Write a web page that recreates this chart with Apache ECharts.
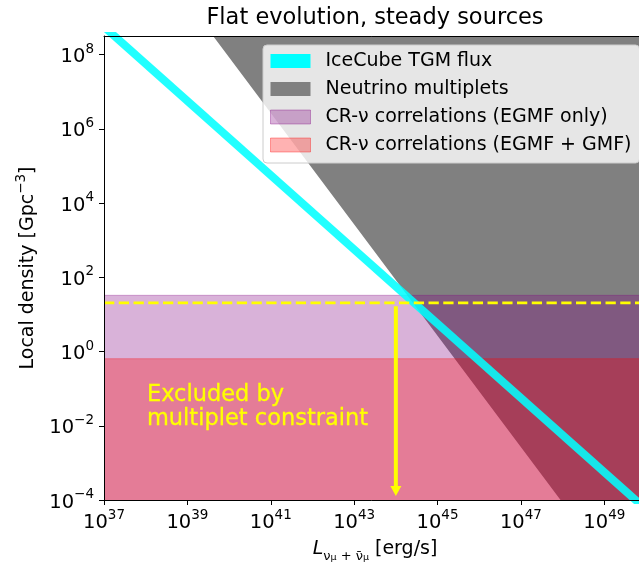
<!DOCTYPE html>
<html>
<head>
<meta charset="utf-8">
<script src="https://cdn.jsdelivr.net/npm/echarts@6/dist/echarts.min.js"></script>
<style>html,body{margin:0;padding:0;background:#fff}#c{width:639px;height:564px}</style>
</head>
<body>
<div id="c"></div>
<script>
// ---- data ----
const xRange = [1e37, 1e50];
const yRange = [1e-4, Math.pow(10, 8.5)];
const xTicks = [1e37, 1e39, 1e41, 1e43, 1e45, 1e47, 1e49];
const yTicks = [1e-4, 1e-2, 1e0, 1e2, 1e4, 1e6, 1e8];

// IceCube TGM flux line (n ~ L^-1)
const icecubeL = [1e37, 1e50];
const icecubeN = [Math.pow(10, 8.75), Math.pow(10, -4.25)];
// Neutrino multiplets boundary (n ~ L^-1.5), excluded above
const multipletL = [1e37, Math.pow(10, 47.95), 1e50];
const multipletN = [Math.pow(10, 12.425), 1e-4, 1e-4];
// CR-nu correlations upper levels
const egmfOnlyL = [1e37, 1e50];
const egmfOnlyN = [32.7, 32.7];
const egmfGmfL = [1e37, 1e50];
const egmfGmfN = [0.64, 0.64];
// multiplet constraint (dashed) and arrow
const constraintL = [1e37, 1e50];
const constraintN = [20.4, 20.4];
const arrowL = [1e44, 1e44];
const arrowN = [16.5, Math.pow(10, -3.757)];
const noteL = [Math.pow(10, 38.03)];
const noteN = [Math.pow(10, -0.84)];
const noteText = 'Excluded by\nmultiplet constraint';

const seriesNames = ['IceCube TGM flux', 'Neutrino multiplets',
  'CR-\u03bd correlations (EGMF only)', 'CR-\u03bd correlations (EGMF + GMF)'];

const FF = 'DejaVu Sans';
function zip(a, b) { return a.map((v, i) => [v, b[i]]); }
function expLabel(v) {
  const e = Math.round(Math.log10(v));
  const s = (e < 0 ? '\u2212' : '') + Math.abs(e);
  return '{b|10}{s|' + s + '}';
}
const tickRich = {
  b: { fontSize: 19.5, fontFamily: FF, color: '#000', padding: [5, 0, 0, 0] },
  s: { fontSize: 13.5, fontFamily: FF, color: '#000', verticalAlign: 'top' }
};

const chart = echarts.init(document.getElementById('c'), null, { renderer: 'canvas' });
const option = {
  animation: false,
  backgroundColor: '#fff',
  title: {
    text: 'Flat evolution, steady sources',
    left: 375, top: 7, padding: 0, textAlign: 'center',
    textStyle: { fontFamily: FF, fontSize: 22.5, fontWeight: 'normal', color: '#000' }
  },
  grid: { left: 104, top: 36, width: 542, height: 464, containLabel: false, outerBoundsMode: 'none' },
  legend: {
    orient: 'vertical', left: 263, top: 45,
    padding: [6.5, 8, 8.5, 7],
    backgroundColor: 'rgba(255,255,255,0.8)',
    borderColor: '#cccccc', borderWidth: 1, borderRadius: 4,
    itemWidth: 40, itemHeight: 14, itemGap: 9,
    selectedMode: false,
    textStyle: { fontFamily: FF, fontSize: 19, color: '#000', lineHeight: 19, padding: [0, 0, 0, 10] },
    data: [
      { name: seriesNames[0], icon: 'rect', itemStyle: { color: '#00ffff', borderWidth: 0 } },
      { name: seriesNames[1], icon: 'rect', itemStyle: { color: '#808080', borderWidth: 0 } },
      { name: seriesNames[2], icon: 'rect', itemStyle: { color: 'rgba(128,0,128,0.3)', borderColor: 'rgba(128,0,128,0.35)', borderWidth: 1 } },
      { name: seriesNames[3], icon: 'rect', itemStyle: { color: 'rgba(255,0,0,0.3)', borderColor: 'rgba(255,0,0,0.35)', borderWidth: 1 } }
    ]
  },
  xAxis: [{
    type: 'log', logBase: 10, min: xRange[0], max: xRange[1], position: 'bottom', z: 10,
    axisLine: { show: true, lineStyle: { color: '#000', width: 1 } },
    axisTick: { show: true, length: 5, customValues: xTicks, lineStyle: { color: '#000', width: 1 } },
    axisLabel: { customValues: xTicks, formatter: expLabel, rich: tickRich, margin: 8 },
    splitLine: { show: false }, minorTick: { show: false },
    name: '{i|L}{sub|\u03bd}{ss|\u03bc}{sub| + \u03bd\u0304}{ss|\u03bc}{n| [erg/s]}',
    nameLocation: 'middle', nameGap: 40,
    nameTextStyle: {
      rich: {
        i: { fontFamily: FF, fontSize: 19, fontStyle: 'italic', color: '#000', padding: [0, 0, 4, 0] },
        sub: { fontFamily: FF, fontSize: 13, color: '#000', verticalAlign: 'bottom' },
        ss: { fontFamily: FF, fontSize: 9.5, color: '#000', verticalAlign: 'bottom' },
        n: { fontFamily: FF, fontSize: 19, color: '#000', padding: [0, 0, 4, 0] }
      }
    }
  }, {
    type: 'log', logBase: 10, min: xRange[0], max: xRange[1], position: 'top', z: 10,
    axisLine: { show: true, lineStyle: { color: '#000', width: 1 } },
    axisTick: { show: false }, axisLabel: { show: false }, splitLine: { show: false }
  }],
  yAxis: {
    type: 'log', logBase: 10, min: yRange[0], max: yRange[1], z: 10,
    axisLine: { show: true, lineStyle: { color: '#000', width: 1 } },
    axisTick: { show: true, length: 5, customValues: yTicks, lineStyle: { color: '#000', width: 1 } },
    axisLabel: { customValues: yTicks, formatter: expLabel, rich: tickRich, margin: 10 },
    splitLine: { show: false }, minorTick: { show: false },
    name: '{n|Local density [Gpc}{s|\u22123}{n|]}',
    nameLocation: 'middle', nameGap: 66, nameRotate: 90,
    nameTextStyle: {
      rich: {
        n: { fontFamily: FF, fontSize: 19, color: '#000', padding: [5, 0, 0, 0] },
        s: { fontFamily: FF, fontSize: 13.5, color: '#000', verticalAlign: 'top' }
      }
    }
  },
  series: [
    {
      name: seriesNames[1], type: 'line', data: zip(multipletL, multipletN),
      symbol: 'none', clip: true, z: 1,
      lineStyle: { width: 0, color: '#808080' }, itemStyle: { color: '#808080' },
      areaStyle: { origin: 'end', color: '#808080', opacity: 1 }
    },
    {
      name: seriesNames[2], type: 'line', data: zip(egmfOnlyL, egmfOnlyN),
      symbol: 'none', clip: true, z: 2,
      lineStyle: { width: 1, color: 'rgba(128,0,128,0.3)' }, itemStyle: { color: 'rgba(128,0,128,0.3)' },
      areaStyle: { origin: 'start', color: 'rgba(128,0,128,0.3)', opacity: 1 }
    },
    {
      name: seriesNames[3], type: 'line', data: zip(egmfGmfL, egmfGmfN),
      symbol: 'none', clip: true, z: 3,
      lineStyle: { width: 1, color: 'rgba(255,0,0,0.3)' }, itemStyle: { color: 'rgba(255,0,0,0.3)' },
      areaStyle: { origin: 'start', color: 'rgba(255,0,0,0.3)', opacity: 1 }
    },
    {
      name: seriesNames[0], type: 'line', data: zip(icecubeL, icecubeN),
      symbol: 'none', clip: true, z: 4,
      lineStyle: { width: 8, color: 'rgba(0,255,255,0.87)', cap: 'butt' }, itemStyle: { color: '#00ffff' }
    },
    {
      name: 'constraint', type: 'line', data: zip(constraintL, constraintN),
      symbol: 'none', clip: true, z: 5,
      lineStyle: { width: 2.8, color: '#ffff00', type: [10.3, 4.45] }
    },
    {
      name: 'arrow', type: 'line', z: 6, clip: false,
      data: [
        { value: [arrowL[0], arrowN[0]], symbol: 'none' },
        { value: [arrowL[1], arrowN[1]], symbol: 'triangle', symbolSize: [11, 10], symbolRotate: 180 }
      ],
      showAllSymbol: true,
      lineStyle: { width: 4, color: '#ffff00' }, itemStyle: { color: '#ffff00' }
    },
    {
      name: 'note', type: 'scatter', z: 7, data: zip(noteL, noteN),
      symbolSize: 0, silent: true, itemStyle: { color: '#ffff00', opacity: 0 },
      emphasis: { disabled: true },
      label: {
        show: true, formatter: noteText, position: [0, 0], align: 'left', verticalAlign: 'top',
        fontFamily: FF, fontSize: 22.5, lineHeight: 24.5, color: '#ffff00',
        textBorderColor: '#ffff00', textBorderWidth: 0.3, opacity: 1
      }
    }
  ]
};
chart.setOption(option);
</script>
</body>
</html>
